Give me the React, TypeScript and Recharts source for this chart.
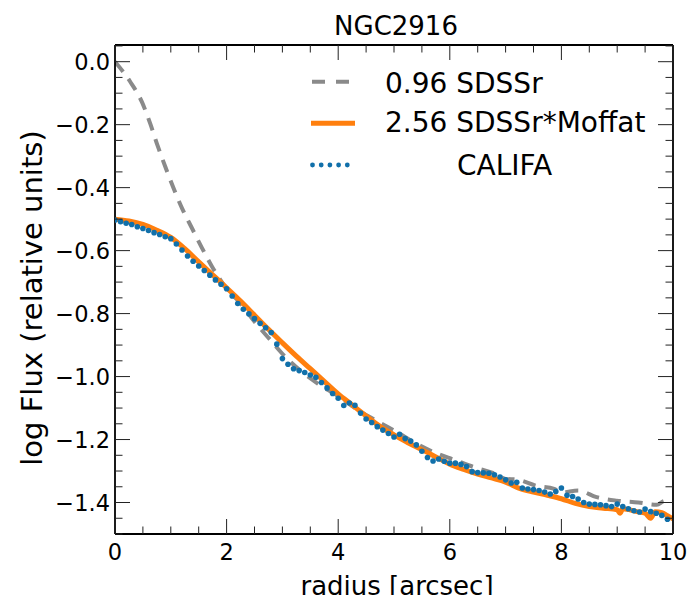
import React from 'react';
import { LineChart, Line, XAxis, YAxis, Legend } from 'recharts';

// CALIFA profile, sampled every 0.1 arcsec from 0.0 to 9.9
const califaFlux = [
  -0.503, -0.508, -0.513, -0.517, -0.524, -0.53, -0.536, -0.543, -0.549, -0.556,
  -0.562, -0.579, -0.598, -0.617, -0.634, -0.649, -0.663, -0.678, -0.693, -0.707,
  -0.721, -0.744, -0.768, -0.786, -0.801, -0.816, -0.831, -0.845, -0.86, -0.897,
  -0.943, -0.961, -0.975, -0.981, -0.987, -0.995, -1.002, -1.019, -1.036, -1.054,
  -1.069, -1.092, -1.084, -1.091, -1.116, -1.135, -1.146, -1.159, -1.17, -1.181,
  -1.192, -1.183, -1.197, -1.205, -1.217, -1.237, -1.257, -1.268, -1.262, -1.269,
  -1.275, -1.275, -1.279, -1.286, -1.302, -1.305, -1.306, -1.307, -1.312, -1.319,
  -1.328, -1.338, -1.336, -1.354, -1.357, -1.359, -1.362, -1.367, -1.373, -1.365,
  -1.354, -1.377, -1.381, -1.389, -1.4, -1.405, -1.406, -1.407, -1.41, -1.413,
  -1.405, -1.413, -1.42, -1.426, -1.43, -1.421, -1.429, -1.434, -1.441, -1.453,
];
const califaStep = 0.1;

// 0.96 SDSSr
const sdssRadius = [
  0, 0.27, 0.48, 0.63, 0.77, 0.9, 1.05, 1.2, 1.38, 1.56, 1.74, 1.95, 2.25, 2.52, 2.78,
  3.05, 3.35, 3.64, 4.0, 4.3, 4.65, 5.02, 5.4, 5.75, 6.09, 6.47, 6.83, 7.0, 7.2, 7.55,
  7.87, 8.0, 8.3, 8.63, 8.99, 9.38, 9.71, 9.85, 10.0,
];
const sdssFlux = [
  0.0, -0.063, -0.127, -0.196, -0.27, -0.333, -0.402, -0.465, -0.529, -0.592, -0.651,
  -0.709, -0.768, -0.83, -0.883, -0.937, -0.985, -1.023, -1.062, -1.1, -1.137, -1.173,
  -1.213, -1.243, -1.265, -1.29, -1.31, -1.325, -1.327, -1.347, -1.357, -1.368, -1.362,
  -1.383, -1.394, -1.4, -1.407, -1.395, -1.4,
];

// 2.56 SDSSr*Moffat
const moffatRadius = [
  0, 0.25, 0.5, 0.75, 1.0, 1.25, 1.5, 1.75, 2.0, 2.25, 2.5, 2.75, 3.0, 3.25, 3.5, 3.75,
  4.0, 4.25, 4.5, 4.75, 5.0, 5.25, 5.5, 5.75, 6.0, 6.25, 6.5, 6.75, 7.0, 7.25, 7.5, 7.75,
  8.0, 8.25, 8.5, 8.75, 9.0, 9.05, 9.1, 9.35, 9.5, 9.6, 9.68, 9.8, 9.9, 10.0,
];
const moffatFlux = [
  -0.5, -0.506, -0.517, -0.535, -0.558, -0.594, -0.636, -0.677, -0.718, -0.76, -0.805,
  -0.85, -0.893, -0.935, -0.975, -1.015, -1.055, -1.09, -1.125, -1.158, -1.185, -1.21,
  -1.232, -1.255, -1.278, -1.295, -1.31, -1.322, -1.335, -1.355, -1.367, -1.377, -1.388,
  -1.403, -1.413, -1.418, -1.423, -1.434, -1.42, -1.429, -1.434, -1.45, -1.429, -1.432,
  -1.442, -1.452,
];

const xTicks = [0, 0.5, 1, 1.5, 2, 2.5, 3, 3.5, 4, 4.5, 5, 5.5, 6, 6.5, 7, 7.5, 8, 8.5, 9, 9.5, 10];
const yTicks = [
  0.05, 0, -0.05, -0.1, -0.15, -0.2, -0.25, -0.3, -0.35, -0.4, -0.45, -0.5, -0.55, -0.6,
  -0.65, -0.7, -0.75, -0.8, -0.85, -0.9, -0.95, -1.0, -1.05, -1.1, -1.15, -1.2, -1.25,
  -1.3, -1.35, -1.4, -1.45, -1.5,
];

const title = 'NGC2916';
const xLabel = 'radius [arcsec]';
const yLabel = 'log Flux (relative units)';
const legendLabels = ['0.96 SDSSr', '2.56 SDSSr*Moffat', 'CALIFA'];

const W = 692;
const H = 595;
const FONT = 'DejaVu Sans';
const GRAY = '#8a8a8a';
const ORANGE = '#ff7f0e';
const BLUE = '#1170aa';

const califaData = califaFlux.map((v, i) => ({ r: Math.round(i * califaStep * 10) / 10, v }));
const sdssData = sdssRadius.map((r, i) => ({ r, v: sdssFlux[i] }));
const moffatData = moffatRadius.map((r, i) => ({ r, v: moffatFlux[i] }));

const isMajorX = (v: number) => Math.abs(v / 2 - Math.round(v / 2)) < 1e-6;
const isMajorY = (v: number) => Math.abs(v / 0.2 - Math.round(v / 0.2)) < 1e-6;
const fmtY = (v: number) => {
  const s = (Math.abs(v) < 1e-9 ? 0 : v).toFixed(1);
  return s.replace('-', '\u2212');
};

const TICK_COLOR = '#222';
const TICK_FONT = 22.5;

const XTick = (props: any) => {
  const { x, y, payload, side } = props;
  const v = payload.value;
  const major = isMajorX(v);
  const len = major ? 15 : 7.5;
  const dir = side === 'top' ? 1 : -1;
  return (
    <g>
      <line x1={x} y1={y} x2={x} y2={y + dir * len} stroke={TICK_COLOR} strokeWidth={1} />
      {side !== 'top' && major ? (
        <text x={x} y={y + 26} textAnchor="middle" fontFamily={FONT} fontSize={TICK_FONT} fill="#000">
          {String(v)}
        </text>
      ) : null}
    </g>
  );
};

const YTick = (props: any) => {
  const { x, y, payload, side } = props;
  const v = payload.value;
  const major = isMajorY(v);
  const len = major ? 15 : 7.5;
  const dir = side === 'right' ? -1 : 1;
  return (
    <g>
      <line x1={x} y1={y} x2={x + dir * len} y2={y} stroke={TICK_COLOR} strokeWidth={1} />
      {side !== 'right' && major ? (
        <text x={x - 5} y={y + 8} textAnchor="end" fontFamily={FONT} fontSize={TICK_FONT} fill="#000">
          {fmtY(v)}
        </text>
      ) : null}
    </g>
  );
};

const Overlay = () => (
  <svg width={W} height={H} style={{ position: 'absolute', left: 0, top: 0, pointerEvents: 'none' }}>
    <text x={396} y={35} textAnchor="middle" fontFamily={FONT} fontSize={26} fill="#000">
      {title}
    </text>
    <text x={397} y={595} textAnchor="middle" fontFamily={FONT} fontSize={26} fill="#000">
      {xLabel}
    </text>
    <text
      transform="translate(42,298) rotate(-90)"
      textAnchor="middle"
      fontFamily={FONT}
      fontSize={29}
      fill="#000"
    >
      {yLabel}
    </text>
    {/* legend */}
    <line x1={312} y1={81.7} x2={349} y2={81.7} stroke={GRAY} strokeWidth={4} strokeDasharray="13 11" />
    <text x={385} y={93} fontFamily={FONT} fontSize={28} fill="#000">{legendLabels[0]}</text>
    <line x1={311} y1={123.3} x2={355} y2={123.3} stroke={ORANGE} strokeWidth={5} />
    <text x={385} y={132} fontFamily={FONT} fontSize={28} fill="#000">{legendLabels[1]}</text>
    {[0, 1, 2, 3, 4].map((i) => (
      <circle key={i} cx={312.5 + i * 8.7} cy={165} r={2.4} fill={BLUE} />
    ))}
    <text x={457} y={175} fontFamily={FONT} fontSize={28} fill="#000">{legendLabels[2]}</text>
  </svg>
);

export default function App() {
  return (
    <div style={{ position: 'absolute', left: 0, top: 0, width: W, height: H, background: '#fff' }}>
      <LineChart width={W} height={H} margin={{ top: 44, right: 18, left: 0, bottom: 0 }}>
        <XAxis
          xAxisId="bottom"
          dataKey="r"
          type="number"
          domain={[0, 10]}
          ticks={xTicks}
          interval={0}
          height={61}
          tickSize={0}
          tickMargin={0}
          tickLine={false}
          axisLine={{ stroke: '#000', strokeWidth: 1.8 }}
          tick={<XTick side="bottom" />}
          allowDataOverflow
        />
        <XAxis
          xAxisId="top"
          orientation="top"
          dataKey="r"
          type="number"
          domain={[0, 10]}
          ticks={xTicks}
          interval={0}
          height={1}
          tickSize={0}
          tickMargin={0}
          tickLine={false}
          axisLine={{ stroke: '#000', strokeWidth: 1.8 }}
          tick={<XTick side="top" />}
          allowDataOverflow
        />
        <YAxis
          yAxisId="left"
          type="number"
          domain={[-1.5, 0.053]}
          ticks={yTicks}
          interval={0}
          width={115}
          tickSize={0}
          tickMargin={0}
          tickLine={false}
          axisLine={{ stroke: '#000', strokeWidth: 1.8 }}
          tick={<YTick side="left" />}
          allowDataOverflow
        />
        <YAxis
          yAxisId="right"
          orientation="right"
          type="number"
          domain={[-1.5, 0.053]}
          ticks={yTicks}
          interval={0}
          width={1}
          tickSize={0}
          tickMargin={0}
          tickLine={false}
          axisLine={{ stroke: '#000', strokeWidth: 1.8 }}
          tick={<YTick side="right" />}
          allowDataOverflow
        />
        <Line
          xAxisId="bottom"
          yAxisId="left"
          data={sdssData}
          dataKey="v"
          type="monotone"
          stroke={GRAY}
          strokeWidth={4}
          strokeDasharray="13 9"
          dot={false}
          isAnimationActive={false}
        />
        <Line
          xAxisId="bottom"
          yAxisId="left"
          data={moffatData}
          dataKey="v"
          type="monotone"
          stroke={ORANGE}
          strokeWidth={5}
          dot={false}
          isAnimationActive={false}
        />
        <Line
          xAxisId="bottom"
          yAxisId="left"
          data={califaData}
          dataKey="v"
          type="linear"
          stroke="none"
          strokeWidth={0}
          dot={{ r: 2.8, fill: BLUE, stroke: 'none' }}
          isAnimationActive={false}
        />
        <Legend
          layout="horizontal"
          verticalAlign="middle"
          align="center"
          wrapperStyle={{ position: 'absolute', left: 0, top: 0, width: W, height: H, pointerEvents: 'none' }}
          content={() => <Overlay />}
        />
      </LineChart>
    </div>
  );
}
